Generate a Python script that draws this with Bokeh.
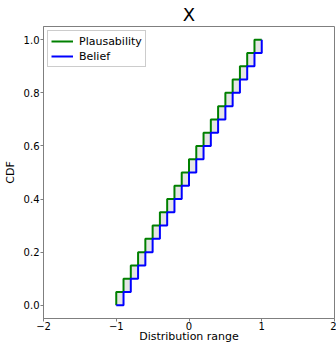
from bokeh.plotting import figure
from bokeh.embed import file_html
from bokeh.resources import INLINE
from bokeh.models import Range1d, FixedTicker, Legend, LegendItem

# interval edges (x) and CDF levels
x_edges = [-1.0, -0.9, -0.8, -0.7, -0.6, -0.5, -0.4, -0.3, -0.2, -0.1, 0.0,
           0.1, 0.2, 0.3, 0.4, 0.5, 0.6, 0.7, 0.8, 0.9, 1.0]
belief = [0.0, 0.05, 0.10, 0.15, 0.20, 0.25, 0.30, 0.35, 0.40, 0.45,
          0.50, 0.55, 0.60, 0.65, 0.70, 0.75, 0.80, 0.85, 0.90, 0.95]
plausability = [0.05, 0.10, 0.15, 0.20, 0.25, 0.30, 0.35, 0.40, 0.45, 0.50,
                0.55, 0.60, 0.65, 0.70, 0.75, 0.80, 0.85, 0.90, 0.95, 1.0]
x_ticks = [-2, -1, 0, 1, 2]
y_ticks = [0.0, 0.2, 0.4, 0.6, 0.8, 1.0]

FONT = "DejaVu Sans"

p = figure(width=336, height=346, output_backend="svg", toolbar_location=None,
           x_range=Range1d(-2, 2), y_range=Range1d(-0.05, 1.05),
           min_border_left=40, min_border_right=2, min_border_top=25,
           min_border_bottom=28, title="X")

p.title.text_font = FONT
p.title.text_font_size = "18px"
p.title.text_font_style = "normal"
p.title.text_color = "black"
p.title.align = "center"
p.title.offset = 0
p.title.standoff = 3

p.grid.visible = False
p.outline_line_color = "#7f7f7f"
p.outline_line_width = 1

# gray fill between bounds
p.quad(left=x_edges[:-1], right=x_edges[1:], bottom=belief, top=plausability,
       fill_color="#e5e5e5", line_color=None)

# plausability step (upper)
px = [x_edges[0]]
py = [belief[0]]
for i in range(len(plausability)):
    px += [x_edges[i], x_edges[i + 1]]
    py += [plausability[i], plausability[i]]
# belief step (lower)
bx, by = [], []
for i in range(len(belief)):
    bx += [x_edges[i], x_edges[i + 1]]
    by += [belief[i], belief[i]]
bx.append(x_edges[-1])
by.append(plausability[-1])

r_pl = p.line(px, py, line_color="green", line_width=2)
r_bel = p.line(bx, by, line_color="blue", line_width=2)

legend = Legend(items=[LegendItem(label="Plausability", renderers=[r_pl]),
                       LegendItem(label="Belief", renderers=[r_bel])],
                location="top_left")
legend.label_text_font = FONT
legend.label_text_font_size = "11px"
legend.label_text_color = "black"
legend.border_line_color = "#cccccc"
legend.border_line_alpha = 1
legend.background_fill_alpha = 0.8
legend.margin = 4
legend.padding = 3
legend.spacing = 1
legend.label_height = 14
legend.glyph_height = 14
legend.glyph_width = 22
legend.label_standoff = 6
p.add_layout(legend)

for ax in (p.xaxis[0], p.yaxis[0]):
    ax.major_label_text_font = FONT
    ax.major_label_text_font_size = "10px"
    ax.major_label_text_color = "black"
    ax.axis_label_text_font = FONT
    ax.axis_label_text_font_size = "11px"
    ax.axis_label_text_font_style = "normal"
    ax.axis_label_text_color = "black"
    ax.axis_line_color = "#7f7f7f"
    ax.major_tick_line_color = "#7f7f7f"
    ax.major_tick_out = 3
    ax.major_tick_in = 0
    ax.minor_tick_line_color = None
    ax.axis_label_standoff = 0
    ax.major_label_standoff = 1

p.xaxis.ticker = FixedTicker(ticks=x_ticks)
p.yaxis.ticker = FixedTicker(ticks=y_ticks)
p.xaxis.major_label_overrides = {-2: "\u22122", -1: "\u22121", 0: "0", 1: "1", 2: "2"}
p.yaxis.major_label_overrides = {0.0: "0.0", 0.2: "0.2", 0.4: "0.4", 0.6: "0.6", 0.8: "0.8", 1.0: "1.0"}
p.xaxis.axis_label = "Distribution range"
p.yaxis.axis_label = "CDF"
p.yaxis[0].axis_label_standoff = 4
p.xaxis[0].axis_label_standoff = -3
p.xaxis[0].major_label_standoff = 0

open("out.html", "w").write(file_html(p, INLINE))
